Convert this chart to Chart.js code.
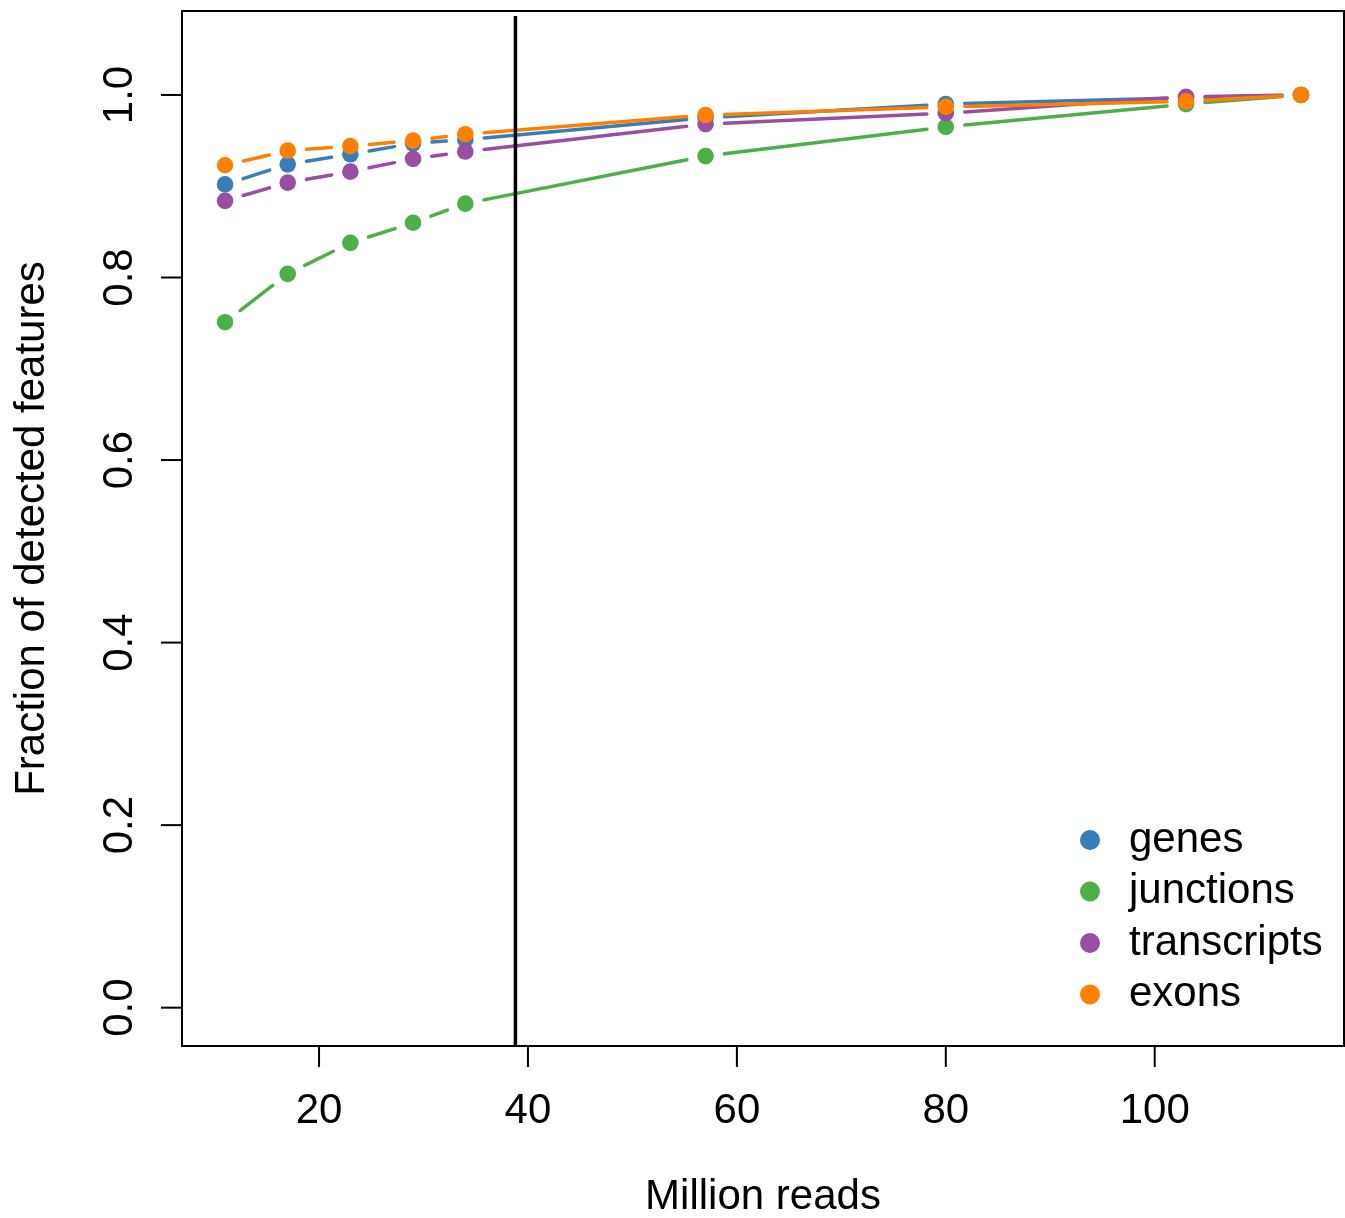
<!DOCTYPE html>
<html lang="en">
<head>
<meta charset="UTF-8">
<title>Fraction of detected features</title>
<script src="https://cdn.jsdelivr.net/npm/chart.js"></script>
<style>
    html, body { margin: 0; padding: 0; background: #fff; overflow: hidden; }
    canvas { display: block; }
</style>
</head>
<body>
<canvas id="satChart" width="1345" height="1218"></canvas>
<script>
// million reads at each subsample
const reads = [11, 17, 23, 29, 34, 57, 80, 103, 114];

const genes       = [0.902, 0.924, 0.935, 0.947, 0.951, 0.975, 0.990, 0.997, 1.0];
const junctions   = [0.751, 0.804, 0.838, 0.860, 0.881, 0.933, 0.965, 0.990, 1.0];
const transcripts = [0.884, 0.904, 0.916, 0.930, 0.938, 0.968, 0.980, 0.998, 1.0];
const exons       = [0.923, 0.939, 0.944, 0.950, 0.957, 0.978, 0.987, 0.993, 1.0];

const seriesNames = ['genes', 'junctions', 'transcripts', 'exons'];
const seriesColors = ['#377EB8', '#4DAF4A', '#984EA3', '#FF7F00'];

const xTicks = [20, 40, 60, 80, 100];
const yTicks = [0, 0.2, 0.4, 0.6, 0.8, 1.0];
const cutoff = 38.8;

const FONT = '"Liberation Sans", Arial, sans-serif';

function toPoints(vals) {
    return reads.map((r, i) => ({ x: r, y: vals[i] }));
}

const allSeries = [genes, junctions, transcripts, exons];
const datasets = allSeries.map((vals, i) => ({
    label: seriesNames[i],
    data: toPoints(vals),
    backgroundColor: seriesColors[i],
    borderColor: seriesColors[i],
    pointRadius: 8.3,
    pointBorderWidth: 0,
    showLine: false,
    order: allSeries.length - i
}));

// R style type="b": segments that stop short of each point
const gappedLines = {
    id: 'gappedLines',
    beforeDatasetsDraw(chart) {
        const ctx = chart.ctx;
        const gap = 19;
        ctx.save();
        ctx.lineWidth = 3.5;
        ctx.lineCap = 'round';
        chart.data.datasets.forEach((ds, di) => {
            const pts = chart.getDatasetMeta(di).data;
            ctx.strokeStyle = ds.borderColor;
            for (let k = 0; k < pts.length - 1; k++) {
                const p = pts[k], q = pts[k + 1];
                const dx = q.x - p.x, dy = q.y - p.y;
                const len = Math.hypot(dx, dy);
                if (len <= 2 * gap) continue;
                const ux = dx / len, uy = dy / len;
                ctx.beginPath();
                ctx.moveTo(p.x + ux * gap, p.y + uy * gap);
                ctx.lineTo(q.x - ux * gap, q.y - uy * gap);
                ctx.stroke();
            }
        });
        ctx.restore();
    }
};

const frameAndAxes = {
    id: 'frameAndAxes',
    afterDatasetsDraw(chart) {
        const ctx = chart.ctx;
        const area = chart.chartArea;
        const xs = chart.scales.x, ys = chart.scales.y;
        ctx.save();

        // vertical cutoff line
        ctx.strokeStyle = '#000';
        ctx.lineWidth = 3.5;
        const vx = xs.getPixelForValue(cutoff);
        ctx.beginPath();
        ctx.moveTo(vx, ys.getPixelForValue(1.0865));
        ctx.lineTo(vx, area.bottom);
        ctx.stroke();

        // box
        ctx.lineWidth = 2;
        ctx.strokeRect(area.left, area.top, area.right - area.left, area.bottom - area.top);

        ctx.fillStyle = '#000';
        ctx.font = '42px ' + FONT;

        // x axis ticks + labels
        ctx.textAlign = 'center';
        ctx.textBaseline = 'alphabetic';
        xTicks.forEach(t => {
            const px = xs.getPixelForValue(t);
            ctx.beginPath();
            ctx.moveTo(px, area.bottom);
            ctx.lineTo(px, area.bottom + 21);
            ctx.stroke();
            ctx.fillText(String(t), px, area.bottom + 77);
        });

        // y axis ticks + rotated labels
        yTicks.forEach(t => {
            const py = ys.getPixelForValue(t);
            ctx.beginPath();
            ctx.moveTo(area.left, py);
            ctx.lineTo(area.left - 21, py);
            ctx.stroke();
            ctx.save();
            ctx.translate(area.left - 50, py);
            ctx.rotate(-Math.PI / 2);
            ctx.fillText(t.toFixed(1), 0, 0);
            ctx.restore();
        });

        // axis titles
        ctx.fillText('Million reads', (area.left + area.right) / 2, area.bottom + 163);
        ctx.save();
        ctx.translate(44, (area.top + area.bottom) / 2);
        ctx.rotate(-Math.PI / 2);
        ctx.fillText('Fraction of detected features', 0, 0);
        ctx.restore();

        // legend, bottom right
        ctx.textAlign = 'left';
        ctx.textBaseline = 'middle';
        seriesNames.forEach((name, i) => {
            const ly = area.bottom - 206 + i * 51.5;
            ctx.fillStyle = seriesColors[i];
            ctx.beginPath();
            ctx.arc(area.right - 254, ly, 10, 0, Math.PI * 2);
            ctx.fill();
            ctx.fillStyle = '#000';
            ctx.fillText(name, area.right - 215, ly);
        });

        ctx.restore();
    }
};

new Chart(document.getElementById('satChart'), {
    type: 'scatter',
    data: { datasets: datasets },
    options: {
        responsive: false,
        devicePixelRatio: 1,
        animation: false,
        layout: {
            autoPadding: false,
            padding: { left: 182, right: 1, top: 11, bottom: 172 }
        },
        plugins: {
            legend: { display: false },
            tooltip: { enabled: false }
        },
        scales: {
            x: { type: 'linear', min: 6.88, max: 118.12, display: false },
            y: { type: 'linear', min: -0.042, max: 1.092, display: false }
        }
    },
    plugins: [gappedLines, frameAndAxes]
});
</script>
</body>
</html>
